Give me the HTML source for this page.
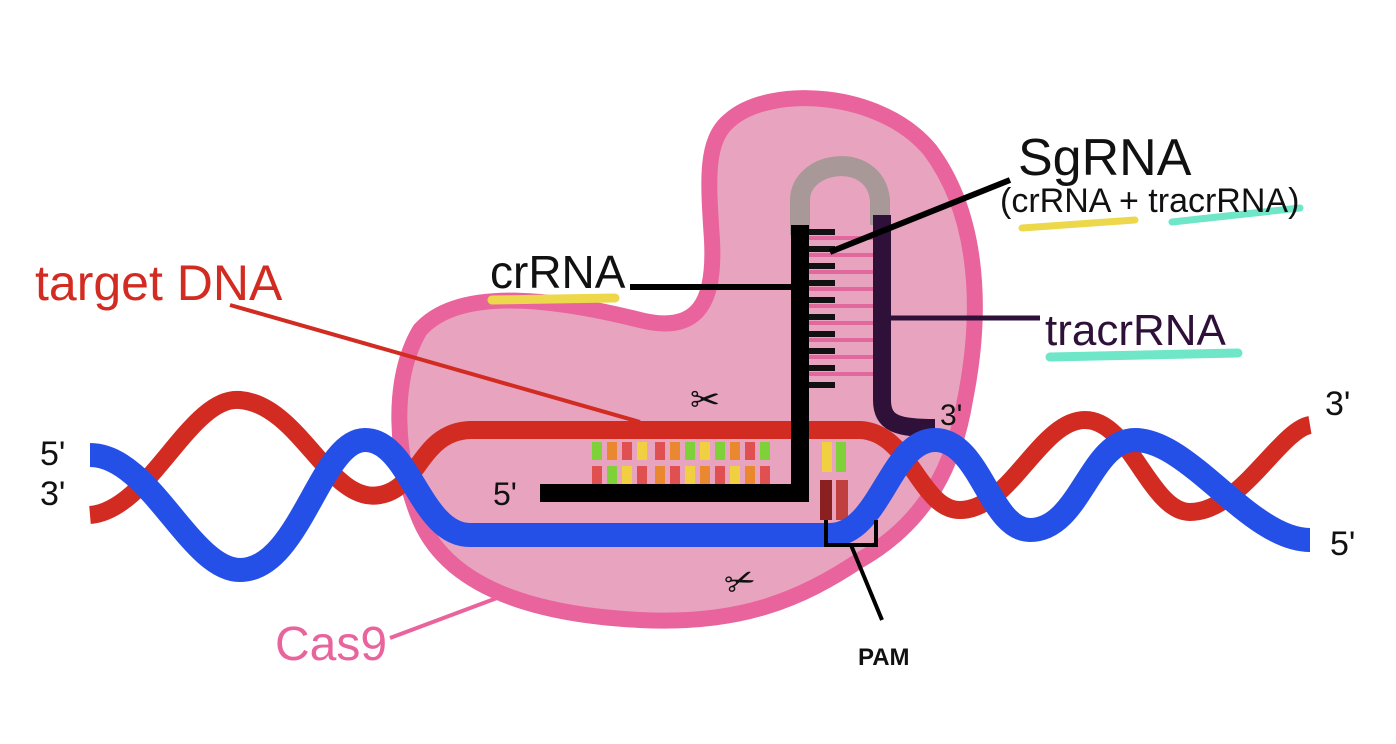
<!DOCTYPE html>
<html><head><meta charset="utf-8"><style>
html,body{margin:0;padding:0;background:#fff;}
svg{display:block;}
text{font-family:"Liberation Sans",sans-serif;}
</style></head><body>
<svg width="1396" height="744" viewBox="0 0 1396 744" xmlns="http://www.w3.org/2000/svg">
<!-- Cas9 blob -->
<path d="M730,120 C770,85 880,90 930,150 C975,210 985,300 965,400 C955,460 930,520 860,560 C800,600 740,625 640,620 C540,615 450,590 420,520 C395,460 390,380 420,330 C460,285 560,300 640,320 C700,335 715,300 712,240 C708,180 705,140 730,120 Z" fill="#e8a4bf" stroke="#e9649c" stroke-width="16"/>
<!-- gray arc -->
<path d="M800,235 L800,200 C800,160 875,150 880,200 L880,225" fill="none" stroke="#a89898" stroke-width="20"/>
<!-- rungs -->
<g stroke="#e0689c" stroke-width="4">
<line x1="808" y1="238" x2="878" y2="238"/><line x1="808" y1="255" x2="878" y2="255"/>
<line x1="808" y1="272" x2="878" y2="272"/><line x1="808" y1="289" x2="878" y2="289"/>
<line x1="808" y1="306" x2="878" y2="306"/><line x1="808" y1="323" x2="878" y2="323"/>
<line x1="808" y1="340" x2="878" y2="340"/><line x1="808" y1="357" x2="878" y2="357"/>
<line x1="808" y1="374" x2="878" y2="374"/>
</g>
<g stroke="#111" stroke-width="6">
<line x1="808" y1="232" x2="835" y2="232"/><line x1="808" y1="249" x2="835" y2="249"/>
<line x1="808" y1="266" x2="835" y2="266"/><line x1="808" y1="283" x2="835" y2="283"/>
<line x1="808" y1="300" x2="835" y2="300"/><line x1="808" y1="317" x2="835" y2="317"/>
<line x1="808" y1="334" x2="835" y2="334"/><line x1="808" y1="351" x2="835" y2="351"/>
<line x1="808" y1="368" x2="835" y2="368"/><line x1="808" y1="385" x2="835" y2="385"/>
</g>
<!-- tracrRNA purple -->
<path d="M882,215 L882,400 C882,425 900,428 935,428" fill="none" stroke="#2e1038" stroke-width="18"/>
<line x1="888" y1="318" x2="1040" y2="318" stroke="#2e1038" stroke-width="5"/>
<!-- red DNA -->
<path d="M90,515 C150,510 190,395 240,400 C300,405 330,505 380,495 C420,488 420,432 470,430 L860,430 C910,432 920,510 960,510 C1010,510 1040,420 1085,420 C1130,420 1150,512 1190,512 C1240,512 1280,430 1310,425" fill="none" stroke="#d22c22" stroke-width="18"/>
<!-- base pairs -->
<g>
<rect x="592" y="442" width="10" height="18" fill="#7fd13a"/><rect x="607" y="442" width="10" height="18" fill="#e9882e"/>
<rect x="622" y="442" width="10" height="18" fill="#e05050"/><rect x="637" y="442" width="10" height="18" fill="#f0d040"/>
<rect x="655" y="442" width="10" height="18" fill="#e05050"/><rect x="670" y="442" width="10" height="18" fill="#e9882e"/>
<rect x="685" y="442" width="10" height="18" fill="#7fd13a"/><rect x="700" y="442" width="10" height="18" fill="#f0d040"/>
<rect x="715" y="442" width="10" height="18" fill="#7fd13a"/><rect x="730" y="442" width="10" height="18" fill="#e9882e"/>
<rect x="745" y="442" width="10" height="18" fill="#e05050"/><rect x="760" y="442" width="10" height="18" fill="#7fd13a"/>
<rect x="592" y="466" width="10" height="22" fill="#e05050"/><rect x="607" y="466" width="10" height="22" fill="#7fd13a"/>
<rect x="622" y="466" width="10" height="22" fill="#f0d040"/><rect x="637" y="466" width="10" height="22" fill="#e05050"/>
<rect x="655" y="466" width="10" height="22" fill="#e9882e"/><rect x="670" y="466" width="10" height="22" fill="#e05050"/>
<rect x="685" y="466" width="10" height="22" fill="#f0d040"/><rect x="700" y="466" width="10" height="22" fill="#e9882e"/>
<rect x="715" y="466" width="10" height="22" fill="#e05050"/><rect x="730" y="466" width="10" height="22" fill="#f0d040"/>
<rect x="745" y="466" width="10" height="22" fill="#e9882e"/><rect x="760" y="466" width="10" height="22" fill="#e05050"/>
<rect x="822" y="442" width="10" height="30" fill="#f0d040"/><rect x="836" y="442" width="10" height="30" fill="#7fd13a"/>
<rect x="820" y="480" width="12" height="40" fill="#8a2020"/><rect x="836" y="480" width="12" height="40" fill="#c04040"/>
</g>
<!-- crRNA black -->
<path d="M800,225 L800,493 L540,493" fill="none" stroke="#000" stroke-width="18"/>
<line x1="630" y1="287" x2="795" y2="287" stroke="#000" stroke-width="6"/>
<!-- blue DNA -->
<path d="M90,455 C150,455 190,570 240,570 C300,570 320,440 365,440 C410,440 420,535 470,535 L830,535 C880,535 890,440 935,440 C980,440 990,530 1030,530 C1080,530 1090,440 1135,440 C1190,440 1250,540 1310,540" fill="none" stroke="#2550e8" stroke-width="24"/>
<!-- PAM bracket -->
<path d="M826,520 L826,545 L876,545 L876,520" fill="none" stroke="#000" stroke-width="4"/>
<line x1="851" y1="545" x2="882" y2="620" stroke="#000" stroke-width="4"/>
<!-- leader lines -->
<line x1="230" y1="305" x2="640" y2="422" stroke="#d22c22" stroke-width="4"/>
<line x1="1010" y1="180" x2="830" y2="252" stroke="#000" stroke-width="6"/>
<line x1="390" y1="638" x2="505" y2="595" stroke="#e9649c" stroke-width="4"/>
<!-- highlights -->
<path d="M492,300 L615,298" stroke="#ecd84a" stroke-width="9" stroke-linecap="round"/>
<path d="M1022,228 L1135,220" stroke="#ecd84a" stroke-width="7" stroke-linecap="round"/>
<path d="M1172,222 L1300,208" stroke="#6fe6c8" stroke-width="7" stroke-linecap="round"/>
<path d="M1050,357 L1238,353" stroke="#6fe6c8" stroke-width="9" stroke-linecap="round"/>
<!-- scissors -->
<text x="690" y="412" font-size="36" fill="#111">✂</text>
<text x="725" y="592" font-size="36" fill="#111" transform="rotate(-20 745 580)">✂</text>
<!-- labels -->
<text x="35" y="300" font-size="50" fill="#d22c22">target DNA</text>
<text x="490" y="288" font-size="46" fill="#111">crRNA</text>
<text x="1018" y="175" font-size="52" fill="#111">SgRNA</text>
<text x="1000" y="212" font-size="34" fill="#111">(crRNA + tracrRNA)</text>
<text x="1045" y="345" font-size="44" fill="#2e1038">tracrRNA</text>
<text x="275" y="660" font-size="48" fill="#e9649c">Cas9</text>
<text x="858" y="665" font-size="24" fill="#111" font-weight="bold">PAM</text>
<text x="40" y="465" font-size="34" fill="#111">5'</text>
<text x="40" y="505" font-size="34" fill="#111">3'</text>
<text x="493" y="505" font-size="32" fill="#111">5'</text>
<text x="940" y="425" font-size="30" fill="#111">3'</text>
<text x="1325" y="415" font-size="34" fill="#111">3'</text>
<text x="1330" y="555" font-size="34" fill="#111">5'</text>
</svg>
</body></html>
